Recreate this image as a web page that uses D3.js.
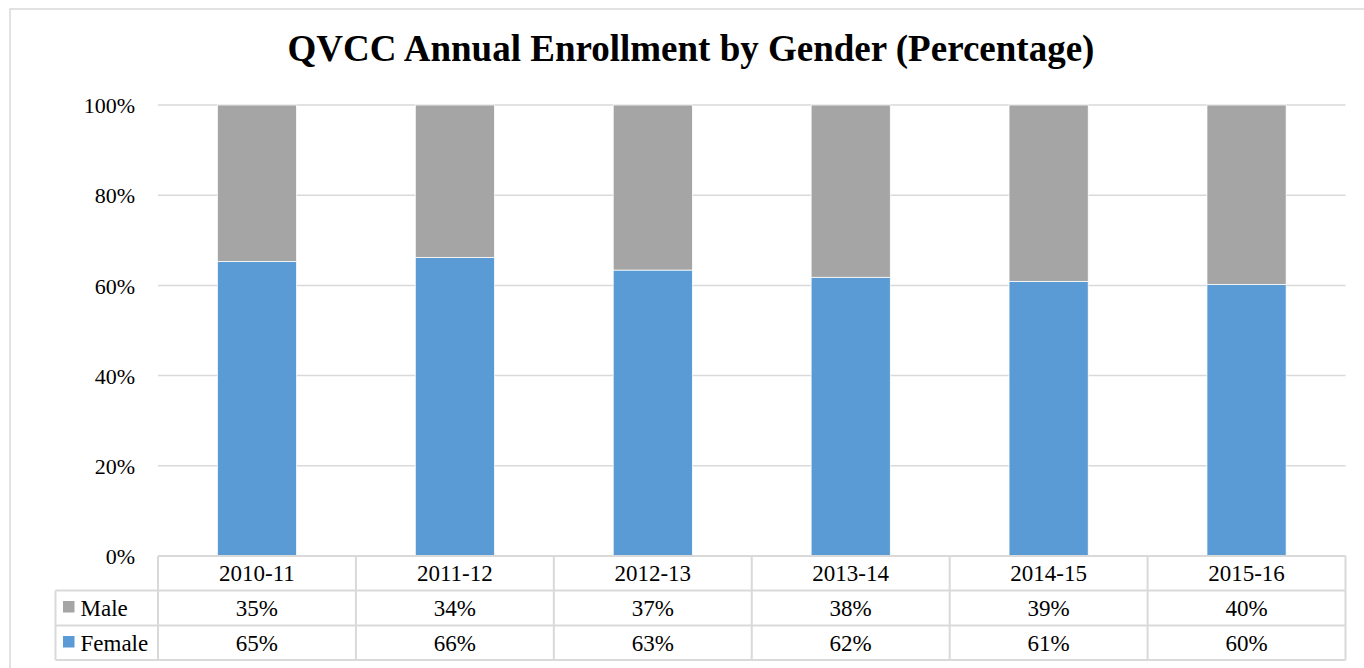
<!DOCTYPE html>
<html><head><meta charset="utf-8">
<script src="https://cdn.jsdelivr.net/npm/d3@7"></script>
<style>body{margin:0;background:#fff}svg{display:block}text{font-family:"Liberation Serif","Times New Roman",serif;fill:#000}</style>
</head><body><svg id="c" width="1364" height="668"></svg>
<script>
const categories = ["2010-11","2011-12","2012-13","2013-14","2014-15","2015-16"];
const female = [0.653, 0.662, 0.634, 0.618, 0.609, 0.602];
const male = [0.347, 0.338, 0.366, 0.382, 0.391, 0.398];
const seriesNames = ["Male","Female"];
const seriesColors = ["#A5A5A5","#5B9BD5"];
const yTicks = [0,0.2,0.4,0.6,0.8,1.0];
const title = "QVCC Annual Enrollment by Gender (Percentage)";

const svg = d3.select("#c");
const W = 1364, H = 668;
const grid = "#D9D9D9";

// outer border
svg.append("rect").attr("x",10).attr("y",9).attr("width",W+20).attr("height",H+20)
  .attr("fill","#fff").attr("stroke",grid).attr("stroke-width",1.5);

svg.append("text").attr("x",691).attr("y",61).attr("text-anchor","middle")
  .style("font-family",'"Liberation Serif","Times New Roman",serif')
  .style("font-size","37px").style("font-weight","bold").text(title);

const x0 = 158, x1 = 1345.5, yTop = 105, yBot = 556;
const x = d3.scaleBand().domain(categories).range([x0,x1]).paddingInner(0.6).paddingOuter(0.3);
const xc = d3.scaleBand().domain(categories).range([x0,x1]);
const y = d3.scaleLinear().domain([0,1]).range([yBot,yTop]);

// gridlines
svg.append("g").selectAll("line").data(yTicks).join("line")
  .attr("x1",x0).attr("x2",x1).attr("y1",d=>y(d)).attr("y2",d=>y(d))
  .attr("stroke",grid).attr("stroke-width",1.5);

// y axis labels
const yAxis = d3.axisLeft(y).tickValues(yTicks).tickFormat(d3.format(".0%")).tickSize(0).tickPadding(23);
const ga = svg.append("g").attr("transform",`translate(${x0},0)`).call(yAxis);
ga.select(".domain").remove();
ga.attr("font-family",null).attr("font-size",null);
ga.selectAll("text").style("font-family",'"Liberation Serif","Times New Roman",serif').style("font-size","22px").attr("dy","0.35em");

// bars
const stackData = categories.map((c,i)=>({cat:c, Female:female[i], Male:male[i]}));
const stack = d3.stack().keys(["Female","Male"])(stackData);
const colorOf = {Male:seriesColors[0], Female:seriesColors[1]};
svg.append("g").selectAll("g").data(stack).join("g").attr("fill",s=>colorOf[s.key])
  .selectAll("rect").data(s=>s).join("rect")
  .attr("x",d=>x(d.data.cat)).attr("width",x.bandwidth())
  .attr("y",d=>y(d[1])).attr("height",d=>y(d[0])-y(d[1]))
  .attr("stroke","#fff").attr("stroke-width",0.75);

// data table
const rows = [yBot, 590.5, 625.5, 660];
const tl = 55.5;
const t = svg.append("g").attr("stroke",grid).attr("stroke-width",2).attr("fill","none");
t.append("line").attr("x1",x0).attr("x2",x1).attr("y1",rows[0]).attr("y2",rows[0]);
[1,2,3].forEach(r=>t.append("line").attr("x1",tl).attr("x2",x1).attr("y1",rows[r]).attr("y2",rows[r]));
t.append("line").attr("x1",tl).attr("x2",tl).attr("y1",rows[1]).attr("y2",rows[3]);
const bounds = [x0].concat(categories.map(c=>xc(c)+xc.bandwidth()));
t.selectAll(".v").data(bounds).join("line").attr("class","v")
  .attr("x1",d=>d).attr("x2",d=>d).attr("y1",rows[0]).attr("y2",rows[3]);

svg.append("g").selectAll("text").data(categories).join("text")
  .attr("x",c=>xc(c)+xc.bandwidth()/2).attr("y",581).attr("text-anchor","middle")
  .style("font-size","23px").text(c=>c);

const fmt = d3.format(".0%");
const rowVals = [male, female];
seriesNames.forEach((s,ri)=>{
  const base = [615.5, 650.5][ri];
  svg.append("rect").attr("x",63).attr("y",base-14.5).attr("width",11.5).attr("height",11.5).attr("fill",seriesColors[ri]);
  svg.append("text").attr("x",80.5).attr("y",base).style("font-size","23px").text(s);
  svg.append("g").selectAll("text").data(rowVals[ri]).join("text")
    .attr("x",(v,i)=>xc(categories[i])+xc.bandwidth()/2).attr("y",base).attr("text-anchor","middle")
    .style("font-size","23px").text(v=>fmt(v));
});
</script></body></html>
